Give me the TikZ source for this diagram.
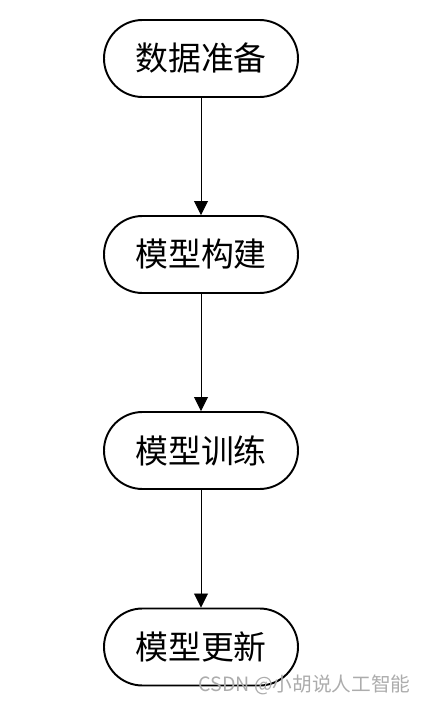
\documentclass[tikz,border=0pt]{standalone}
\usepackage{fontspec}
\newfontfamily\cjk{Noto Sans CJK SC}
\usetikzlibrary{positioning,arrows.meta}
\colorlet{colorMARK}{gray!65}
\tikzset{
   every path/.style={>={Triangle[width=2.8mm,length=2.8mm]}},
   stage/.style={rectangle,rounded corners=7.7mm,draw,line width=1.1pt,minimum width=3.88cm,minimum height=1.54cm,font=\cjk\fontsize{18.7pt}{20pt}\selectfont},
   flow/.style={->,line width=0.5pt},
   wmark/.style={text=colorMARK,font=\cjk\fontsize{11.2pt}{12pt}\selectfont,inner sep=0pt},
}

\begin{document}
\begin{tikzpicture}
    \useasboundingbox (0,0) rectangle (8.52,14.08);

    \node[stage] (prep)   at (4.02,12.91) {数据准备};
    \node[stage] (build)  at (4.02,8.99)  {模型构建};
    \node[stage] (train)  at (4.02,5.07)  {模型训练};
    \node[stage] (update) at (4.02,1.14)  {模型更新};

    \draw[flow] (prep)  -- (build);
    \draw[flow] (build) -- (train);
    \draw[flow] (train) -- (update);

    % watermark
    \node[wmark,anchor=east] (wm) at (8.22,0.38) {CSDN @小胡说人工智能};

\end{tikzpicture}
\end{document}
